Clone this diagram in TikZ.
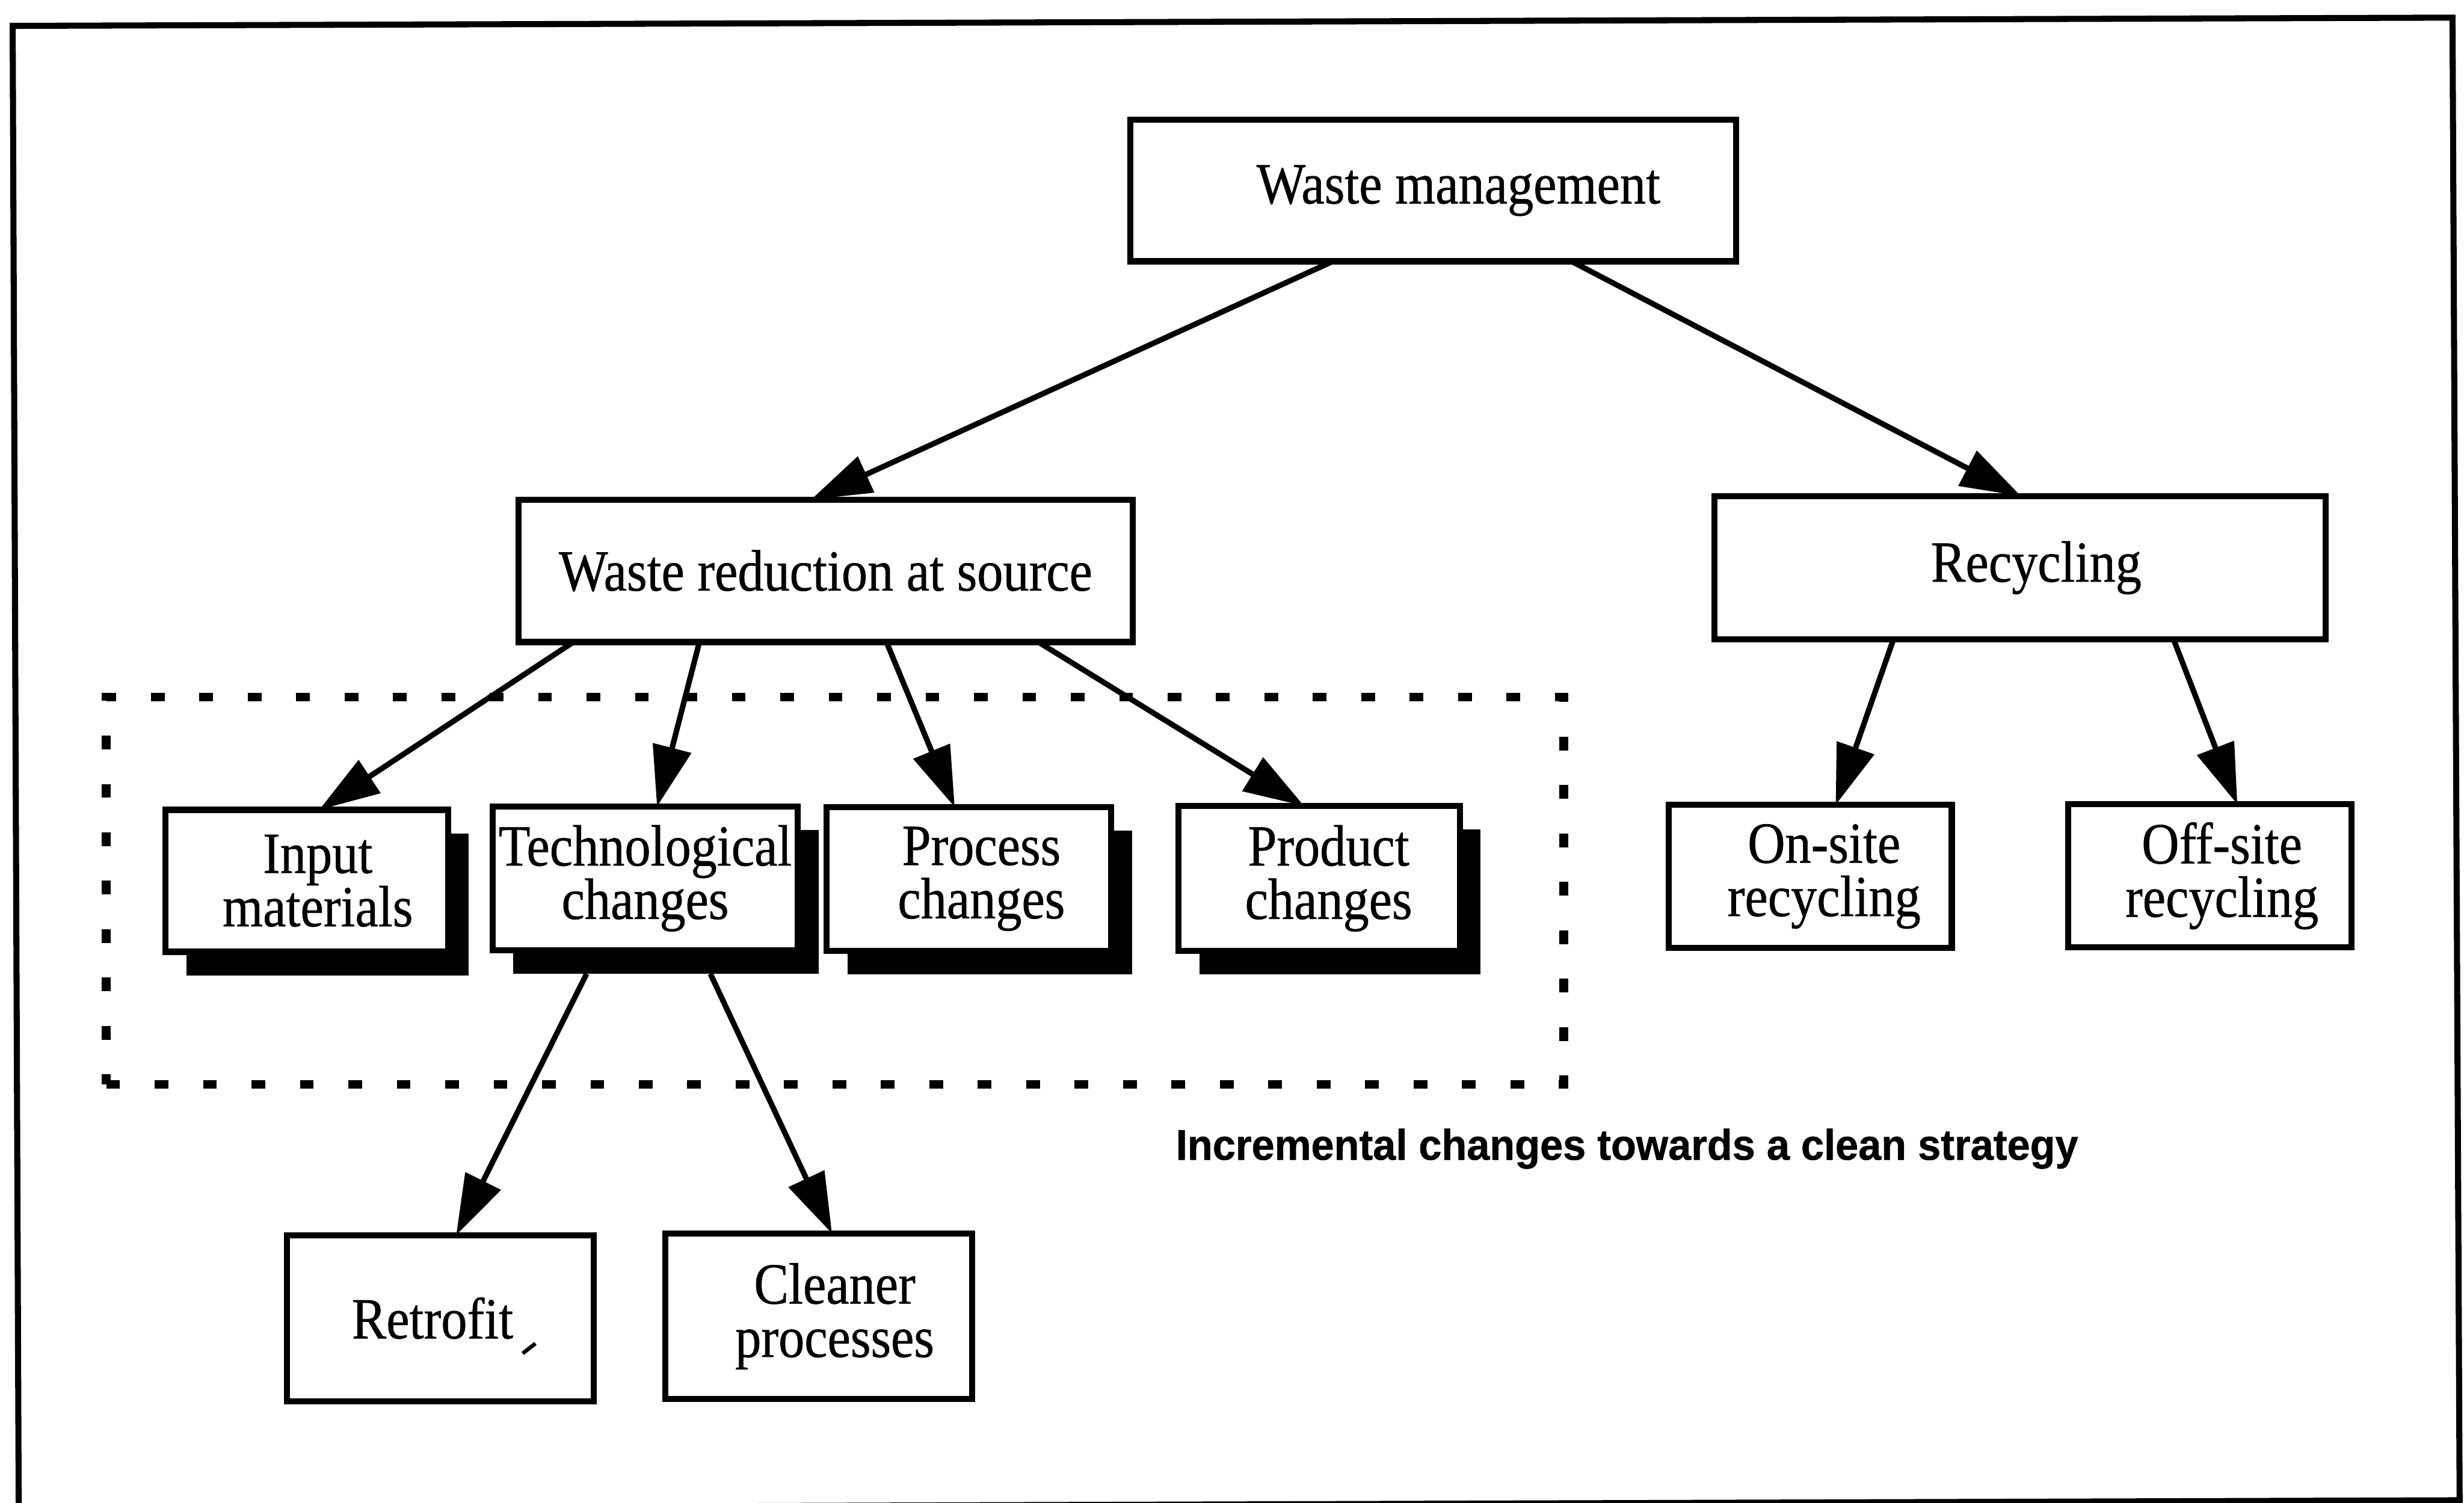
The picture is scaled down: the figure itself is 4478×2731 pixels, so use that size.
\documentclass[tikz,border=0pt]{standalone}
\usepackage{fontspec}
\usetikzlibrary{arrows.meta,shadows,calc}
\newfontfamily\boxfont{Liberation Serif}[FakeStretch=0.89,FakeBold=0.6]
\newfontfamily\notefont{Liberation Sans}[FakeStretch=0.96,FakeBold=0.8]
\begin{document}
\begin{tikzpicture}[x=0.1pt,y=-0.1pt,
  box/.style={draw, line width=1.1pt, fill=white, inner sep=0pt, outer sep=0pt,
    align=center, font=\boxfont\fontsize{10.6}{9.7}\selectfont},
  shadowed/.style={drop shadow={shadow xshift=3.8pt, shadow yshift=-4.3pt,
    fill=black, opacity=1}},
  link/.style={line width=1pt, -{Triangle[length=11pt,width=7pt]}},
  dotbox/.style={draw, line width=1.6pt, dash pattern=on 2.5pt off 6.3pt,
    inner sep=0pt, outer sep=0pt},
  note/.style={font=\notefont\bfseries\fontsize{7.8}{9}\selectfont, inner sep=0pt}
]
\useasboundingbox (0,0) rectangle (4478,2731);
\clip (0,0) rectangle (4478,2731);

% outer frame
\draw[line width=1.1pt] (23,47) -- (4457,32) -- (4470,2727) -- (34,2742) -- cycle;

% group of incremental changes
\node[dotbox, minimum width=264.9pt, minimum height=70.4pt] (grp) at (1517.5,1619) {};

% top level
\node[box, minimum width=110.1pt, minimum height=25.7pt] (wm) at (2604.5,346.5)
  {\hspace*{9.2pt}Waste management};

% second level
\node[box, minimum width=111.7pt, minimum height=25.9pt] (wrs) at (1500.5,1037.5)
  {Waste reduction at source};
\node[box, minimum width=111.1pt, minimum height=26pt] (rec) at (3671.5,1032)
  {\hspace*{5.8pt}Recycling};

% third level
\node[box, shadowed, minimum width=51.3pt, minimum height=25.8pt] (inp) at (557.5,1601)
  {\hspace*{4pt}Input\\\hspace*{4pt}materials};
\node[box, shadowed, minimum width=55.5pt, minimum height=26.1pt] (tech) at (1172.5,1596.5)
  {Technological\\changes};
\node[box, shadowed, minimum width=51.7pt, minimum height=26.1pt] (proc) at (1760.5,1597.5)
  {\hspace*{4.6pt}Process\\\hspace*{4.6pt}changes};
\node[box, shadowed, minimum width=51.1pt, minimum height=26.3pt] (prod) at (2397.5,1596.5)
  {\hspace*{3.4pt}Product\\\hspace*{3.4pt}changes};
\node[box, minimum width=51.4pt, minimum height=26pt] (onsite) at (3290,1593)
  {\hspace*{5pt}On-site\\\hspace*{5pt}recycling};
\node[box, minimum width=51.4pt, minimum height=26pt] (offsite) at (4016,1592)
  {\hspace*{4.4pt}Off-site\\\hspace*{4.4pt}recycling};

% fourth level
\node[box, minimum width=55.8pt, minimum height=30.2pt] (retro) at (800,2396)
  {Retrofit\hspace*{2.8pt}};
\node[box, minimum width=55.8pt, minimum height=30.1pt] (clean) at (1488,2392.5)
  {\hspace*{5.8pt}Cleaner\\\hspace*{5.8pt}processes};

% small stroke after "Retrofit"
\draw[line width=0.7pt] ($(retro.center)+(150,64)$) -- ($(retro.center)+(173,46)$);

% caption of the group
\node[note, anchor=base] (cap) at (2957,2108) {Incremental changes towards a clean strategy};

% connectors
\draw[link] ($(wm.south west)+(368,0)$) -- ($(wrs.north west)+(532,0)$);
\draw[link] ($(wm.south west)+(802,0)$) -- ($(rec.north west)+(557,0)$);
\draw[link] ($(wrs.south west)+(100,0)$) -- ($(inp.north west)+(279,0)$);
\draw[link] ($(wrs.south west)+(329,0)$) -- ($(tech.north west)+(299,0)$);
\draw[link] ($(wrs.south west)+(669,0)$) -- ($(proc.north west)+(233,0)$);
\draw[link] ($(wrs.south west)+(945,0)$) -- ($(prod.north west)+(228,0)$);
\draw[link] ($(rec.south west)+(325,0)$) -- ($(onsite.north west)+(303,0)$);
\draw[link] ($(rec.south west)+(834,0)$) -- ($(offsite.north west)+(307,0)$);
\draw[link] ($(tech.south west)+(171,43)$) -- ($(retro.north west)+(308,0)$);
\draw[link] ($(tech.south west)+(396,43)$) -- ($(clean.north west)+(303,0)$);
\end{tikzpicture}
\end{document}
